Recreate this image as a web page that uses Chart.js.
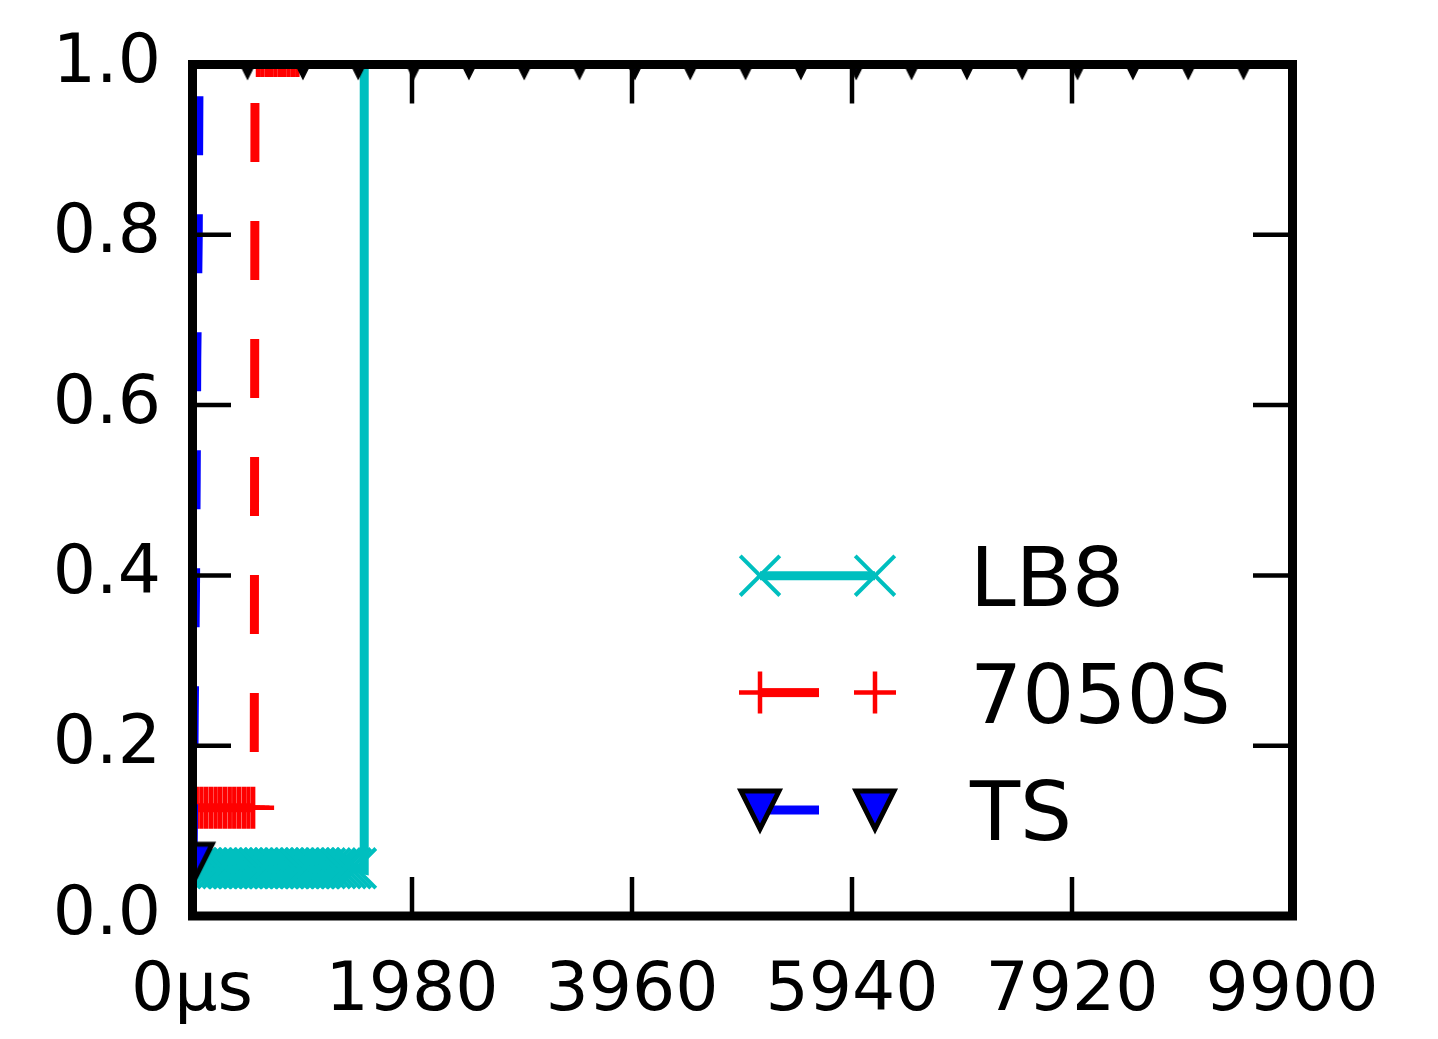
<!DOCTYPE html>
<html>
<head>
<meta charset="utf-8">
<script src="https://cdn.jsdelivr.net/npm/chart.js@4/dist/chart.umd.min.js"></script>
<style>
html,body{margin:0;padding:0;background:#ffffff;}
#wrap{width:1438px;height:1039px;}
</style>
</head>
<body>
<div id="wrap"><canvas id="c" width="1438" height="1039"></canvas></div>
<script>
// ---------------- data ----------------
const seriesNames = ['LB8', '7050S', 'TS'];
const xTickLabels = ['0μs', '1980', '3960', '5940', '7920', '9900'];
const yTickLabels = ['0.0', '0.2', '0.4', '0.6', '0.8', '1.0'];

// LB8 : marker positions and line path
const lb8MarkX = [0, 46, 92, 138, 185, 231, 277, 323, 369, 415, 461, 508, 554, 600, 646, 692, 738, 784, 830, 877, 923, 969, 1015, 1061, 1107, 1153, 1199, 1246, 1292, 1338, 1384, 1430, 1476];
const lb8MarkY = [0.056, 0.056, 0.056, 0.056, 0.056, 0.056, 0.056, 0.056, 0.056, 0.056, 0.056, 0.056, 0.056, 0.056, 0.056, 0.056, 0.056, 0.056, 0.056, 0.056, 0.056, 0.056, 0.056, 0.056, 0.056, 0.056, 0.056, 0.056, 0.056, 0.056, 0.056, 0.056, 0.056];
const lb8LineX = [0, 1476, 1550, 1550, 9900];
const lb8LineY = [0.056, 0.056, 0.054, 1.01, 1.01];

// 7050S
const s7050MarkX = [0, 42, 85, 127, 169, 212, 254, 296, 339, 381, 423, 466, 508, 550, 594, 633, 673, 712, 751, 791, 830, 869, 909, 948];
const s7050MarkY = [0.127, 0.127, 0.127, 0.127, 0.127, 0.127, 0.127, 0.127, 0.127, 0.127, 0.127, 0.127, 0.127, 0.127, 1.01, 1.01, 1.01, 1.01, 1.01, 1.01, 1.01, 1.01, 1.01, 1.01];
const s7050LineX = [0, 560, 567, 9900];
const s7050LineY = [0.127, 0.127, 1.01, 1.01];

// TS
const tsMarkX = [10, 500, 998, 1496, 1994, 2492, 2990, 3488, 3986, 4484, 4982, 5480, 5978, 6476, 6974, 7472, 7970, 8468, 8966, 9464];
const tsMarkY = [0.062, 1.01, 1.01, 1.01, 1.01, 1.01, 1.01, 1.01, 1.01, 1.01, 1.01, 1.01, 1.01, 1.01, 1.01, 1.01, 1.01, 1.01, 1.01, 1.01];
const tsLineX = [10, 20, 31, 38, 43, 56, 61, 64, 9900];
const tsLineY = [0.062, 0.235, 0.375, 0.515, 0.655, 0.795, 0.93, 1.01, 1.01];

// ---------------- helpers ----------------
function pts(xs, ys) { return xs.map((x, i) => ({x: x, y: ys[i]})); }

const CYAN = '#00bfbf', RED = '#ff0000', BLUE = '#0000ff';
const FONT = "'DejaVu Sans', 'Liberation Sans', sans-serif";

function makeTriangle() {
  const s = 60, c = document.createElement('canvas');
  c.width = s; c.height = s;
  const g = c.getContext('2d');
  const h = 19, cx = s / 2, cy = s / 2;
  g.beginPath();
  g.moveTo(cx - h, cy - h);
  g.lineTo(cx + h, cy - h);
  g.lineTo(cx, cy + h);
  g.closePath();
  g.fillStyle = BLUE; g.fill();
  g.lineWidth = 5; g.lineJoin = 'miter'; g.strokeStyle = '#000000'; g.stroke();
  return c;
}
const triImg = makeTriangle();

const styles = [
  {color: CYAN, dash: [], marker: 'crossRot', radius: 28, mw: 4},
  {color: RED, dash: [59, 59], marker: 'cross', radius: 21, mw: 4.5},
  {color: BLUE, dash: [59, 59], marker: triImg, radius: 25, mw: 0}
];

// ---------------- plugins ----------------
const framePlugin = {
  id: 'frame',
  afterDatasetsDraw(chart) {
    const {ctx, chartArea: a, scales: {x, y}} = chart;
    ctx.save();
    ctx.strokeStyle = '#000000';
    ctx.lineCap = 'butt';
    ctx.lineWidth = 4.5;
    const L = 39;
    const seg = (x1, y1, x2, y2) => { ctx.beginPath(); ctx.moveTo(x1, y1); ctx.lineTo(x2, y2); ctx.stroke(); };
    x.ticks.forEach(t => {
      if (t.value <= x.min || t.value >= x.max) return;
      const p = x.getPixelForValue(t.value);
      seg(p, a.bottom, p, a.bottom - L);
      seg(p, a.top, p, a.top + L);
    });
    y.ticks.forEach(t => {
      if (t.value <= y.min || t.value >= y.max) return;
      const p = y.getPixelForValue(t.value);
      seg(a.left, p, a.left + L, p);
      seg(a.right, p, a.right - L, p);
    });
    ctx.lineWidth = 9;
    ctx.lineJoin = 'miter';
    ctx.strokeRect(a.left + 0.5, a.top, a.right - a.left, a.bottom - a.top);
    ctx.restore();
  }
};

function drawMarker(ctx, st, x, y) {
  if (typeof st.marker !== 'string') {
    ctx.drawImage(st.marker, x - st.marker.width / 2, y - st.marker.height / 2);
    return;
  }
  ctx.save();
  ctx.strokeStyle = st.color;
  ctx.lineWidth = st.mw;
  ctx.beginPath();
  if (st.marker === 'crossRot') {
    const d = st.radius * Math.SQRT1_2;
    ctx.moveTo(x - d, y - d); ctx.lineTo(x + d, y + d);
    ctx.moveTo(x - d, y + d); ctx.lineTo(x + d, y - d);
  } else {
    const r = st.radius;
    ctx.moveTo(x - r, y); ctx.lineTo(x + r, y);
    ctx.moveTo(x, y - r); ctx.lineTo(x, y + r);
  }
  ctx.stroke();
  ctx.restore();
}

const legendPlugin = {
  id: 'mplLegend',
  afterDraw(chart) {
    const ctx = chart.ctx;
    const x0 = 760, x1 = 875, textX = 970;
    const rows = [575.7, 692.6, 810];
    ctx.save();
    seriesNames.forEach((name, i) => {
      const st = styles[i];
      const yy = rows[i];
      ctx.save();
      ctx.strokeStyle = st.color;
      ctx.lineWidth = 9;
      ctx.lineCap = 'butt';
      ctx.setLineDash(st.dash);
      ctx.beginPath(); ctx.moveTo(x0, yy); ctx.lineTo(x1, yy); ctx.stroke();
      ctx.restore();
      drawMarker(ctx, st, x0, yy);
      drawMarker(ctx, st, x1, yy);
      ctx.fillStyle = '#000000';
      ctx.font = '82px ' + FONT;
      ctx.textAlign = 'left';
      ctx.textBaseline = 'alphabetic';
      ctx.fillText(name, textX, yy + 30);
    });
    ctx.restore();
  }
};

// ---------------- datasets ----------------
function lineDs(i, xs, ys, order) {
  return {
    label: seriesNames[i] + ' line', data: pts(xs, ys), showLine: true,
    borderColor: styles[i].color, borderWidth: 9, borderDash: styles[i].dash,
    borderCapStyle: 'butt', borderJoinStyle: 'miter',
    pointRadius: 0, fill: false, tension: 0, clip: 0, order: order
  };
}
function markDs(i, xs, ys, order) {
  return {
    label: seriesNames[i], data: pts(xs, ys), showLine: false,
    pointStyle: styles[i].marker, pointRadius: styles[i].radius,
    pointBorderColor: styles[i].color, pointBackgroundColor: styles[i].color,
    pointBorderWidth: styles[i].mw, clip: 0, order: order
  };
}

Chart.defaults.font.family = FONT;
Chart.defaults.color = '#000000';

function zeroPad(s) { s.paddingLeft = 0; s.paddingRight = 0; s.paddingTop = 0; s.paddingBottom = 0; }

new Chart(document.getElementById('c'), {
  type: 'scatter',
  data: {
    datasets: [
      lineDs(0, lb8LineX, lb8LineY, 6),
      markDs(0, lb8MarkX, lb8MarkY, 5),
      lineDs(1, s7050LineX, s7050LineY, 4),
      markDs(1, s7050MarkX, s7050MarkY, 3),
      lineDs(2, tsLineX, tsLineY, 2),
      markDs(2, tsMarkX, tsMarkY, 1)
    ]
  },
  options: {
    responsive: false,
    devicePixelRatio: 1,
    animation: false,
    events: [],
    layout: {padding: {left: 0, top: 64.5, right: 146, bottom: 0}},
    plugins: {legend: {display: false}, tooltip: {enabled: false}},
    scales: {
      x: {
        type: 'linear', min: 0, max: 9900,
        grid: {display: false}, border: {display: false},
        ticks: {
          stepSize: 1980, autoSkip: false, maxRotation: 0, padding: 28,
          font: {size: 68, family: FONT}, color: '#000000',
          callback: (v, i) => xTickLabels[i]
        },
        afterFit: s => { s.height = 1039 - 916; zeroPad(s); }
      },
      y: {
        type: 'linear', min: 0, max: 1,
        grid: {display: false}, border: {display: false},
        ticks: {
          stepSize: 0.2, autoSkip: false, padding: 23,
          font: {size: 68, family: FONT}, color: '#000000',
          callback: (v, i) => yTickLabels[i]
        },
        afterFit: s => { s.width = 192; zeroPad(s); }
      }
    }
  },
  plugins: [framePlugin, legendPlugin]
});
</script>
</body>
</html>
